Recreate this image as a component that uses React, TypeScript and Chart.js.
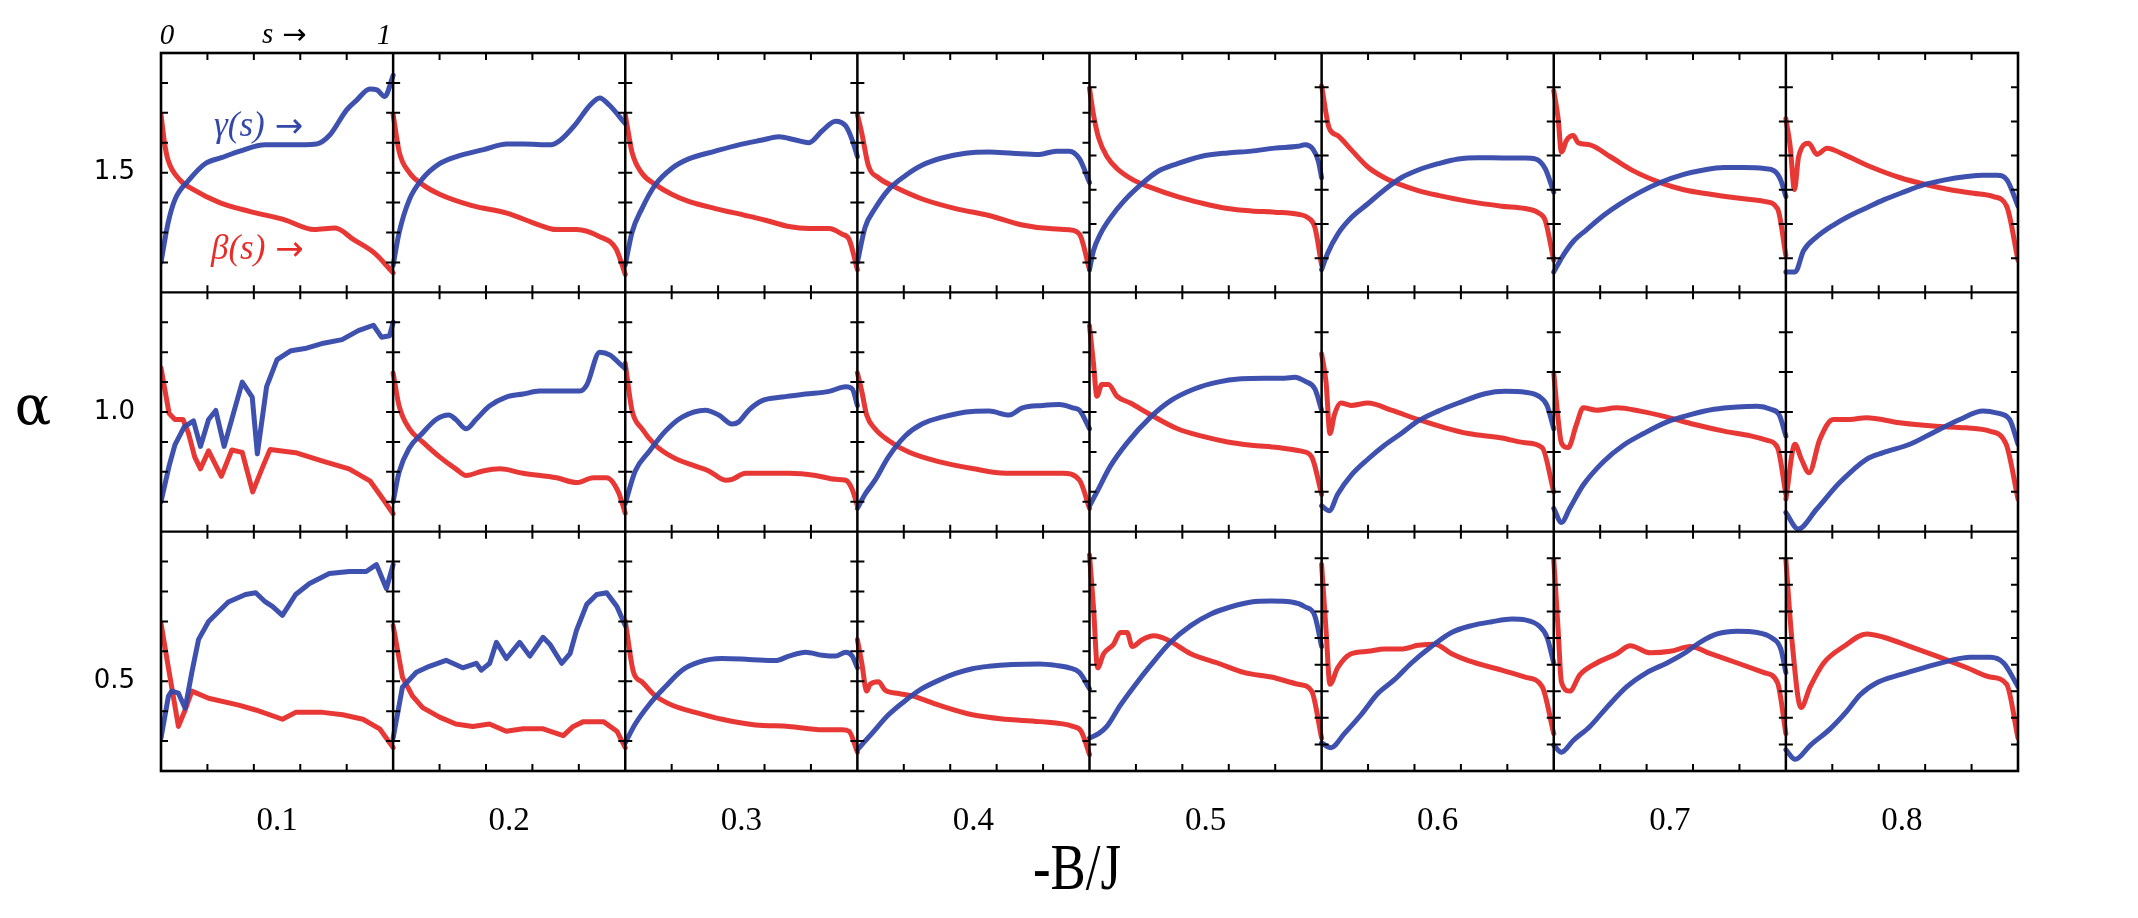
import React, { useEffect, useRef } from 'react';
import { Chart, registerables } from 'chart.js';

Chart.register(...registerables);

// -B/J values (column centres) and their tick labels
const fieldValues = [0.1, 0.2, 0.3, 0.4, 0.5, 0.6, 0.7, 0.8];
const fieldLabels = ['0.1', '0.2', '0.3', '0.4', '0.5', '0.6', '0.7', '0.8'];
// alpha row labels and where they sit on the stacked y scale
const alphaLabels = ['1.5', '1.0', '0.5'];
const alphaTickPos = [20, 12, 3];
// each row is 8 units tall on the shared y scale
const rowBases = [16, 8, 0];
// y tick divisions of each panel's own axis (columns 1-4, columns 5-8)
const yDivsLeft = [8, 8, 8];
const yDivsRight = [7, 6, 9];
// panels (row-col) whose curves have sharp zig-zags
const sharpPanels = ['1-0', '2-0', '2-1'];

type P = [number, number];

// Row alpha = 1.5 : gamma(s) and beta(s), pairs [s, value in panel units 0..8]
const gammaTop: P[][] = [
  [[0, 1.0], [0.03, 2.3], [0.06, 3.1], [0.12, 3.75], [0.19, 4.3], [0.26, 4.5], [0.34, 4.72], [0.45, 4.93], [0.55, 4.93], [0.67, 4.96], [0.725, 5.24], [0.8, 6.1], [0.84, 6.4], [0.9, 6.8], [0.93, 6.77], [0.964, 6.55], [1.0, 7.25]],
  [[0, 0.9], [0.026, 2.0], [0.07, 3.1], [0.127, 3.8], [0.2, 4.3], [0.27, 4.53], [0.39, 4.77], [0.49, 4.96], [0.56, 4.96], [0.68, 4.93], [0.72, 5.08], [0.78, 5.56], [0.85, 6.27], [0.89, 6.5], [0.93, 6.27], [1.0, 5.64]],
  [[0, 0.91], [0.029, 2.0], [0.072, 2.8], [0.13, 3.6], [0.2, 4.14], [0.273, 4.46], [0.388, 4.72], [0.489, 4.93], [0.59, 5.09], [0.662, 5.2], [0.734, 5.09], [0.791, 5.0], [0.849, 5.4], [0.906, 5.72], [0.95, 5.56], [0.978, 5.09], [1.0, 4.54]],
  [[0, 1.0], [0.033, 2.17], [0.076, 2.8], [0.134, 3.43], [0.206, 3.9], [0.278, 4.25], [0.364, 4.49], [0.466, 4.65], [0.567, 4.69], [0.668, 4.65], [0.784, 4.61], [0.856, 4.72], [0.913, 4.72], [0.957, 4.46], [1.0, 3.67]],
  [[0, 0.76], [0.017, 1.39], [0.046, 1.94], [0.09, 2.49], [0.147, 3.04], [0.22, 3.59], [0.292, 4.03], [0.379, 4.3], [0.48, 4.54], [0.595, 4.66], [0.697, 4.72], [0.798, 4.82], [0.899, 4.88], [0.928, 4.93], [0.964, 4.77], [0.986, 4.38], [1.0, 3.83]],
  [[0, 0.76], [0.026, 1.31], [0.069, 1.94], [0.127, 2.49], [0.199, 2.96], [0.271, 3.43], [0.343, 3.83], [0.416, 4.09], [0.502, 4.3], [0.589, 4.46], [0.675, 4.5], [0.791, 4.49], [0.877, 4.49], [0.92, 4.46], [0.963, 4.14], [1.0, 3.35]],
  [[0, 0.68], [0.04, 1.23], [0.084, 1.7], [0.141, 2.09], [0.214, 2.57], [0.286, 2.96], [0.372, 3.35], [0.459, 3.67], [0.56, 3.94], [0.646, 4.09], [0.733, 4.17], [0.82, 4.17], [0.906, 4.14], [0.95, 4.06], [0.978, 3.75], [1.0, 3.2]],
  [[0, 0.68], [0.04, 0.68], [0.076, 1.39], [0.134, 1.86], [0.205, 2.25], [0.277, 2.57], [0.349, 2.83], [0.421, 3.09], [0.507, 3.35], [0.593, 3.59], [0.68, 3.75], [0.78, 3.87], [0.852, 3.91], [0.91, 3.91], [0.953, 3.75], [1.0, 2.88]],
];
const betaTop: P[][] = [
  [[0, 5.94], [0.015, 5.0], [0.03, 4.43], [0.08, 3.77], [0.14, 3.43], [0.255, 2.99], [0.385, 2.7], [0.53, 2.43], [0.66, 2.1], [0.75, 2.15], [0.83, 1.76], [0.92, 1.31], [1.0, 0.65]],
  [[0, 5.95], [0.026, 4.7], [0.07, 4.0], [0.127, 3.6], [0.2, 3.28], [0.34, 2.9], [0.49, 2.65], [0.63, 2.25], [0.7, 2.1], [0.79, 2.1], [0.89, 1.86], [0.96, 1.46], [1.0, 0.6]],
  [[0, 5.95], [0.029, 4.69], [0.072, 3.98], [0.13, 3.6], [0.2, 3.28], [0.273, 3.04], [0.388, 2.8], [0.518, 2.57], [0.604, 2.41], [0.705, 2.2], [0.791, 2.13], [0.878, 2.13], [0.935, 1.94], [0.964, 1.78], [1.0, 0.76]],
  [[0, 5.95], [0.019, 5.32], [0.048, 4.22], [0.091, 3.83], [0.164, 3.51], [0.279, 3.12], [0.423, 2.8], [0.567, 2.57], [0.711, 2.25], [0.827, 2.13], [0.913, 2.09], [0.957, 1.94], [1.0, 0.76]],
  [[0, 6.82], [0.017, 5.95], [0.039, 5.17], [0.075, 4.54], [0.118, 4.14], [0.19, 3.75], [0.263, 3.51], [0.379, 3.2], [0.48, 2.99], [0.595, 2.8], [0.697, 2.72], [0.798, 2.68], [0.899, 2.61], [0.942, 2.49], [0.971, 2.17], [1.0, 0.91]],
  [[0, 6.9], [0.033, 5.48], [0.069, 5.24], [0.127, 4.77], [0.199, 4.19], [0.271, 3.83], [0.343, 3.59], [0.416, 3.4], [0.502, 3.24], [0.632, 3.04], [0.776, 2.88], [0.877, 2.8], [0.935, 2.65], [0.963, 2.41], [1.0, 1.07]],
  [[0, 6.74], [0.019, 5.8], [0.033, 4.69], [0.055, 5.08], [0.084, 5.24], [0.105, 5.0], [0.156, 4.93], [0.242, 4.54], [0.343, 4.06], [0.459, 3.67], [0.56, 3.43], [0.675, 3.28], [0.791, 3.15], [0.906, 3.04], [0.964, 2.8], [1.0, 1.23]],
  [[0, 5.8], [0.019, 4.85], [0.037, 3.43], [0.055, 4.54], [0.098, 4.98], [0.134, 4.61], [0.177, 4.82], [0.249, 4.61], [0.349, 4.25], [0.493, 3.83], [0.593, 3.62], [0.708, 3.43], [0.808, 3.31], [0.894, 3.2], [0.951, 2.88], [1.0, 1.07]],
];

// Row alpha = 1.0
const gammaMid: P[][] = [
  [[0, 1.0], [0.035, 2.2], [0.06, 2.9], [0.1, 3.5], [0.14, 3.7], [0.17, 2.85], [0.205, 3.75], [0.236, 4.05], [0.272, 2.85], [0.35, 5.0], [0.393, 4.5], [0.415, 2.6], [0.455, 4.85], [0.5, 5.75], [0.56, 6.05], [0.62, 6.12], [0.7, 6.3], [0.78, 6.42], [0.85, 6.72], [0.915, 6.9], [0.95, 6.5], [0.985, 6.55], [1.0, 7.0]],
  [[0, 1.0], [0.026, 2.0], [0.07, 2.8], [0.127, 3.3], [0.185, 3.75], [0.24, 3.9], [0.27, 3.75], [0.315, 3.44], [0.357, 3.75], [0.415, 4.2], [0.487, 4.5], [0.56, 4.6], [0.63, 4.7], [0.704, 4.7], [0.805, 4.7], [0.834, 4.9], [0.89, 6.0], [0.935, 5.9], [0.978, 5.6], [1.0, 5.45]],
  [[0, 0.94], [0.043, 2.03], [0.101, 2.66], [0.173, 3.36], [0.245, 3.83], [0.345, 4.06], [0.403, 3.9], [0.46, 3.6], [0.489, 3.67], [0.532, 4.06], [0.59, 4.38], [0.676, 4.5], [0.777, 4.6], [0.878, 4.69], [0.95, 4.84], [0.978, 4.77], [1.0, 4.22]],
  [[0, 0.78], [0.033, 1.25], [0.076, 1.72], [0.134, 2.5], [0.206, 3.2], [0.278, 3.6], [0.364, 3.83], [0.495, 4.02], [0.567, 4.03], [0.654, 3.9], [0.711, 4.14], [0.798, 4.22], [0.87, 4.25], [0.928, 4.14], [0.957, 4.06], [1.0, 3.44]],
  [[0, 0.86], [0.032, 1.33], [0.09, 2.19], [0.162, 2.97], [0.263, 3.83], [0.35, 4.38], [0.451, 4.77], [0.552, 5.0], [0.653, 5.11], [0.754, 5.13], [0.841, 5.13], [0.884, 5.16], [0.928, 5.03], [0.971, 4.77], [1.0, 4.06]],
  [[0, 0.86], [0.033, 0.7], [0.069, 1.25], [0.127, 1.88], [0.199, 2.42], [0.271, 2.89], [0.343, 3.28], [0.416, 3.7], [0.502, 4.03], [0.589, 4.3], [0.704, 4.61], [0.791, 4.69], [0.877, 4.66], [0.935, 4.53], [0.971, 4.22], [1.0, 3.44]],
  [[0, 0.78], [0.033, 0.31], [0.069, 0.78], [0.127, 1.56], [0.214, 2.34], [0.3, 2.89], [0.387, 3.28], [0.488, 3.67], [0.589, 3.91], [0.69, 4.09], [0.791, 4.17], [0.877, 4.19], [0.935, 4.09], [0.971, 3.91], [1.0, 3.2]],
  [[0, 0.64], [0.053, 0.09], [0.132, 0.75], [0.232, 1.64], [0.347, 2.42], [0.419, 2.64], [0.534, 2.92], [0.634, 3.31], [0.749, 3.75], [0.85, 4.03], [0.907, 3.97], [0.964, 3.75], [1.0, 2.92]],
];
const betaMid: P[][] = [
  [[0, 5.47], [0.035, 3.95], [0.06, 3.75], [0.095, 3.75], [0.118, 3.3], [0.145, 2.5], [0.17, 2.1], [0.205, 2.7], [0.26, 1.85], [0.305, 2.73], [0.35, 2.65], [0.395, 1.33], [0.44, 2.2], [0.47, 2.75], [0.58, 2.64], [0.7, 2.35], [0.81, 2.1], [0.9, 1.7], [0.96, 1.05], [1.0, 0.6]],
  [[0, 5.3], [0.026, 4.2], [0.07, 3.44], [0.127, 3.0], [0.2, 2.5], [0.27, 2.1], [0.315, 1.88], [0.387, 2.03], [0.46, 2.1], [0.56, 1.95], [0.704, 1.8], [0.79, 1.64], [0.863, 1.8], [0.92, 1.8], [0.97, 1.33], [1.0, 0.62]],
  [[0, 5.63], [0.029, 4.06], [0.072, 3.44], [0.13, 2.89], [0.202, 2.5], [0.302, 2.19], [0.36, 2.03], [0.432, 1.72], [0.46, 1.75], [0.518, 1.95], [0.633, 1.95], [0.705, 1.95], [0.82, 1.88], [0.906, 1.75], [0.95, 1.72], [0.978, 1.41], [1.0, 0.86]],
  [[0, 5.31], [0.019, 4.69], [0.04, 3.9], [0.076, 3.44], [0.134, 3.05], [0.221, 2.66], [0.35, 2.34], [0.495, 2.11], [0.639, 1.95], [0.784, 1.95], [0.885, 1.95], [0.957, 1.72], [1.0, 0.78]],
  [[0, 6.88], [0.017, 5.63], [0.032, 4.53], [0.053, 4.92], [0.082, 4.92], [0.118, 4.53], [0.176, 4.3], [0.263, 3.91], [0.379, 3.44], [0.48, 3.2], [0.595, 3.0], [0.697, 2.89], [0.812, 2.81], [0.913, 2.69], [0.957, 2.5], [1.0, 1.25]],
  [[0, 5.94], [0.019, 5.0], [0.036, 3.28], [0.055, 3.91], [0.083, 4.3], [0.127, 4.22], [0.199, 4.3], [0.3, 4.06], [0.416, 3.75], [0.531, 3.47], [0.632, 3.28], [0.776, 3.13], [0.877, 2.97], [0.95, 2.81], [1.0, 1.33]],
  [[0, 5.31], [0.019, 3.75], [0.033, 2.97], [0.062, 2.81], [0.098, 3.59], [0.127, 4.14], [0.185, 4.06], [0.271, 4.14], [0.372, 4.03], [0.488, 3.83], [0.603, 3.59], [0.733, 3.36], [0.848, 3.2], [0.92, 3.05], [0.964, 2.81], [1.0, 1.25]],
  [[0, 1.09], [0.039, 2.92], [0.067, 2.42], [0.1, 1.97], [0.146, 3.08], [0.204, 3.75], [0.276, 3.75], [0.347, 3.81], [0.49, 3.64], [0.634, 3.53], [0.777, 3.47], [0.878, 3.36], [0.949, 2.92], [1.0, 1.09]],
];

// Row alpha = 0.5
const gammaBot: P[][] = [
  [[0, 1.1], [0.032, 2.5], [0.046, 2.67], [0.075, 2.6], [0.104, 2.1], [0.133, 3.3], [0.162, 4.4], [0.205, 5.0], [0.29, 5.65], [0.364, 5.9], [0.408, 5.96], [0.45, 5.65], [0.48, 5.5], [0.523, 5.2], [0.58, 5.9], [0.64, 6.27], [0.725, 6.6], [0.812, 6.67], [0.884, 6.67], [0.928, 6.9], [0.971, 6.1], [1.0, 6.9]],
  [[0, 1.1], [0.04, 2.8], [0.1, 3.3], [0.156, 3.5], [0.228, 3.7], [0.3, 3.45], [0.358, 3.6], [0.38, 3.37], [0.416, 3.6], [0.445, 4.3], [0.488, 3.76], [0.545, 4.3], [0.589, 3.84], [0.646, 4.47], [0.675, 4.24], [0.726, 3.6], [0.762, 3.92], [0.79, 4.7], [0.834, 5.57], [0.877, 5.9], [0.92, 5.96], [0.964, 5.5], [1.0, 4.86]],
  [[0, 0.94], [0.043, 1.57], [0.101, 2.2], [0.173, 2.82], [0.245, 3.37], [0.317, 3.64], [0.417, 3.76], [0.532, 3.73], [0.647, 3.69], [0.705, 3.84], [0.777, 3.97], [0.849, 3.87], [0.906, 3.84], [0.95, 3.97], [0.978, 3.84], [1.0, 3.45]],
  [[0, 0.71], [0.062, 1.25], [0.134, 1.88], [0.206, 2.35], [0.278, 2.75], [0.35, 3.03], [0.423, 3.26], [0.495, 3.42], [0.567, 3.5], [0.668, 3.56], [0.784, 3.58], [0.856, 3.53], [0.913, 3.45], [0.957, 3.29], [1.0, 2.75]],
  [[0, 1.1], [0.039, 1.25], [0.075, 1.49], [0.133, 2.2], [0.191, 2.82], [0.263, 3.53], [0.35, 4.31], [0.436, 4.86], [0.523, 5.25], [0.61, 5.49], [0.697, 5.65], [0.783, 5.68], [0.87, 5.65], [0.928, 5.49], [0.971, 5.18], [1.0, 4.16]],
  [[0, 0.94], [0.04, 0.78], [0.098, 1.25], [0.17, 1.88], [0.242, 2.59], [0.315, 3.06], [0.387, 3.61], [0.473, 4.16], [0.56, 4.63], [0.646, 4.86], [0.733, 4.99], [0.82, 5.08], [0.877, 5.05], [0.935, 4.86], [0.971, 4.47], [1.0, 3.61]],
  [[0, 0.86], [0.033, 0.63], [0.084, 1.02], [0.156, 1.49], [0.228, 2.12], [0.315, 2.82], [0.401, 3.29], [0.488, 3.61], [0.56, 3.92], [0.632, 4.31], [0.704, 4.58], [0.791, 4.67], [0.877, 4.63], [0.935, 4.47], [0.978, 4.08], [1.0, 3.29]],
  [[0, 0.71], [0.04, 0.39], [0.105, 0.86], [0.191, 1.41], [0.263, 2.0], [0.32, 2.55], [0.392, 2.95], [0.493, 3.22], [0.593, 3.45], [0.708, 3.69], [0.794, 3.8], [0.88, 3.8], [0.938, 3.61], [1.0, 2.82]],
];
const betaBot: P[][] = [
  [[0, 4.94], [0.032, 3.45], [0.075, 1.49], [0.104, 2.04], [0.133, 2.67], [0.205, 2.43], [0.335, 2.2], [0.408, 2.04], [0.523, 1.73], [0.58, 1.96], [0.696, 1.96], [0.783, 1.88], [0.87, 1.73], [0.942, 1.41], [1.0, 0.78]],
  [[0, 4.86], [0.04, 3.14], [0.084, 2.5], [0.127, 2.12], [0.2, 1.8], [0.27, 1.57], [0.343, 1.49], [0.415, 1.57], [0.487, 1.33], [0.56, 1.41], [0.646, 1.41], [0.733, 1.18], [0.776, 1.49], [0.82, 1.65], [0.906, 1.65], [0.964, 1.33], [1.0, 0.78]],
  [[0, 5.02], [0.036, 3.29], [0.072, 2.98], [0.13, 2.51], [0.202, 2.2], [0.302, 1.96], [0.417, 1.73], [0.561, 1.54], [0.705, 1.49], [0.849, 1.38], [0.935, 1.38], [0.964, 1.33], [1.0, 0.63]],
  [[0, 4.39], [0.019, 3.61], [0.04, 2.67], [0.055, 2.9], [0.091, 2.98], [0.12, 2.7], [0.178, 2.59], [0.236, 2.51], [0.351, 2.2], [0.495, 1.88], [0.639, 1.73], [0.784, 1.65], [0.928, 1.49], [0.964, 1.33], [1.0, 0.55]],
  [[0, 7.22], [0.017, 5.49], [0.035, 3.45], [0.061, 3.92], [0.104, 4.24], [0.133, 4.63], [0.162, 4.63], [0.184, 4.16], [0.227, 4.39], [0.277, 4.52], [0.335, 4.39], [0.436, 3.92], [0.552, 3.61], [0.668, 3.29], [0.783, 3.14], [0.899, 2.9], [0.957, 2.67], [1.0, 1.1]],
  [[0, 6.9], [0.019, 4.71], [0.036, 2.9], [0.069, 3.45], [0.127, 3.92], [0.199, 4.0], [0.271, 4.08], [0.343, 4.08], [0.416, 4.2], [0.488, 4.24], [0.56, 3.92], [0.632, 3.69], [0.776, 3.37], [0.877, 3.14], [0.95, 2.82], [1.0, 1.25]],
  [[0, 7.06], [0.019, 4.71], [0.033, 2.98], [0.069, 2.67], [0.113, 3.22], [0.185, 3.61], [0.271, 3.92], [0.329, 4.19], [0.416, 3.95], [0.502, 4.0], [0.589, 4.16], [0.675, 3.92], [0.791, 3.61], [0.906, 3.29], [0.964, 2.95], [1.0, 1.25]],
  [[0, 7.06], [0.026, 4.39], [0.065, 2.12], [0.105, 2.82], [0.163, 3.61], [0.249, 4.16], [0.349, 4.58], [0.421, 4.47], [0.536, 4.16], [0.65, 3.84], [0.78, 3.45], [0.88, 3.14], [0.951, 2.9], [1.0, 1.1]],
];

const BLUE = 'rgba(52, 72, 170, 0.95)';
const RED = 'rgba(230, 45, 42, 0.95)';
const COL_W = 0.1;
const ROW_H = 8;

const rows = [
  { base: rowBases[0], gamma: gammaTop, beta: betaTop },
  { base: rowBases[1], gamma: gammaMid, beta: betaMid },
  { base: rowBases[2], gamma: gammaBot, beta: betaBot },
];

function toPoints(panel: P[], col: number, base: number) {
  return panel.map(([s, v]) => ({ x: fieldValues[col] + (s - 0.5) * COL_W, y: base + v }));
}

function buildDatasets() {
  const blue: any[] = [];
  const red: any[] = [];
  rows.forEach((r, ri) => {
    for (let c = 0; c < fieldValues.length; c++) {
      const sharp = sharpPanels.includes(`${ri}-${c}`);
      const lineStyle = sharp
        ? { tension: 0, cubicInterpolationMode: 'default' }
        : { tension: 0.4, cubicInterpolationMode: 'monotone' };
      blue.push({ data: toPoints(r.gamma[c], c, r.base), borderColor: BLUE, showLine: true, borderWidth: 5, ...lineStyle });
      red.push({ data: toPoints(r.beta[c], c, r.base), borderColor: RED, showLine: true, borderWidth: 5, ...lineStyle });
    }
  });
  // earlier datasets are drawn on top
  return [...blue, ...red];
}

const framePlugin = {
  id: 'panelFrame',
  afterDatasetsDraw(chart: any) {
    const { ctx, scales } = chart;
    const xs = scales.x;
    const ys = scales.y;
    ctx.save();
    ctx.strokeStyle = '#000';
    ctx.lineCap = 'butt';
    const TL = 7;
    ctx.lineWidth = 2;
    for (let c = 0; c < fieldValues.length; c++) {
      const x0 = xs.getPixelForValue(fieldValues[c] - COL_W / 2);
      const x1 = xs.getPixelForValue(fieldValues[c] + COL_W / 2);
      for (let r = 0; r < rows.length; r++) {
        const yb = ys.getPixelForValue(rows[r].base);
        const yt = ys.getPixelForValue(rows[r].base + ROW_H);
        ctx.beginPath();
        for (let k = 1; k < 5; k++) {
          const px = x0 + ((x1 - x0) * k) / 5;
          ctx.moveTo(px, yt); ctx.lineTo(px, yt + TL);
          ctx.moveTo(px, yb); ctx.lineTo(px, yb - TL);
        }
        const n = c < 4 ? yDivsLeft[r] : yDivsRight[r];
        for (let k = 1; k < n; k++) {
          const py = yb + ((yt - yb) * k) / n;
          ctx.moveTo(x0, py); ctx.lineTo(x0 + TL, py);
          ctx.moveTo(x1, py); ctx.lineTo(x1 - TL, py);
        }
        ctx.stroke();
      }
    }
    const left = xs.getPixelForValue(fieldValues[0] - COL_W / 2);
    const right = xs.getPixelForValue(fieldValues[fieldValues.length - 1] + COL_W / 2);
    const top = ys.getPixelForValue(rowBases[0] + ROW_H);
    const bottom = ys.getPixelForValue(rowBases[2]);
    ctx.lineWidth = 2.5;
    ctx.beginPath();
    for (let c = 1; c < fieldValues.length; c++) {
      const px = xs.getPixelForValue(fieldValues[c] - COL_W / 2);
      ctx.moveTo(px, top); ctx.lineTo(px, bottom);
    }
    ctx.stroke();
    ctx.lineWidth = 2.2;
    ctx.beginPath();
    for (let r = 0; r < 2; r++) {
      const py = ys.getPixelForValue(rows[r].base);
      ctx.moveTo(left, py); ctx.lineTo(right, py);
    }
    ctx.stroke();
    ctx.lineWidth = 2.6;
    ctx.strokeRect(left, top, right - left, bottom - top);
    ctx.restore();
  },
};

function labelWithArrow(ctx: any, text: string, x: number, y: number, color: string, size: number, arrowSize: number, gap: number) {
  ctx.fillStyle = color;
  ctx.textAlign = 'left';
  ctx.font = `italic ${size}px "Liberation Serif"`;
  ctx.fillText(text, x, y);
  const w = ctx.measureText(text).width;
  ctx.font = `${arrowSize}px "DejaVu Sans"`;
  ctx.fillText('→', x + w + gap, y + 1);
}

const textPlugin = {
  id: 'annotations',
  afterDraw(chart: any) {
    const { ctx } = chart;
    ctx.save();
    ctx.textBaseline = 'middle';
    ctx.fillStyle = '#000';
    ctx.textAlign = 'center';
    ctx.font = '54px "DejaVu Serif"';
    ctx.fillText('α', 33, 410);

    ctx.save();
    ctx.translate(1077, 872);
    ctx.scale(0.8, 1);
    ctx.font = '66px "Liberation Serif"';
    ctx.fillText('-B/J', 0, 0);
    ctx.restore();

    ctx.font = 'italic 29px "Liberation Serif"';
    ctx.fillText('0', 167, 36);
    ctx.fillText('1', 384, 36);
    labelWithArrow(ctx, 's', 262, 35, '#000', 29, 29, 9);

    labelWithArrow(ctx, 'γ(s)', 214, 127, 'rgb(52, 72, 170)', 35, 34, 10);
    labelWithArrow(ctx, 'β(s)', 211, 250, 'rgb(230, 45, 42)', 35, 34, 10);
    ctx.restore();
  },
};

export default function App() {
  const ref = useRef<HTMLCanvasElement>(null);
  useEffect(() => {
    if (!ref.current) return;
    const chart = new Chart(ref.current, {
      type: 'scatter',
      data: { datasets: buildDatasets() },
      options: {
        animation: false,
        responsive: false,
        devicePixelRatio: 1,
        layout: { padding: { left: 0, top: 53, right: 120, bottom: 0 } },
        elements: {
          point: { radius: 0, hoverRadius: 0 },
          line: { borderJoinStyle: 'round', borderCapStyle: 'round' },
        },
        plugins: { legend: { display: false }, tooltip: { enabled: false } },
        scales: {
          x: {
            type: 'linear',
            min: 0.05,
            max: 0.85,
            grid: { display: false, drawTicks: false },
            border: { display: false },
            afterBuildTicks: (s: any) => { s.ticks = fieldValues.map((v) => ({ value: v })); },
            afterFit: (s: any) => { s.height = 147; },
            ticks: {
              autoSkip: false,
              maxRotation: 0,
              padding: 31,
              color: '#000',
              font: { family: 'Liberation Serif', size: 33 },
              callback: (_v: any, i: number) => fieldLabels[i],
            },
          },
          y: {
            type: 'linear',
            min: 0,
            max: 24,
            grid: { display: false, drawTicks: false },
            border: { display: false },
            afterBuildTicks: (s: any) => { s.ticks = alphaTickPos.map((v) => ({ value: v })); },
            afterFit: (s: any) => { s.width = 161; },
            ticks: {
              padding: 26,
              color: '#000',
              font: { family: 'DejaVu Sans', size: 26 },
              callback: (_v: any, i: number) => alphaLabels[i],
            },
          },
        },
      },
      plugins: [framePlugin, textPlugin],
    } as any);
    return () => chart.destroy();
  }, []);
  return (
    <div style={{ position: 'fixed', left: 0, top: 0, width: 2138, height: 918, background: '#fff' }}>
      <canvas ref={ref} width={2138} height={918} style={{ width: 2138, height: 918, display: 'block' }} />
    </div>
  );
}
